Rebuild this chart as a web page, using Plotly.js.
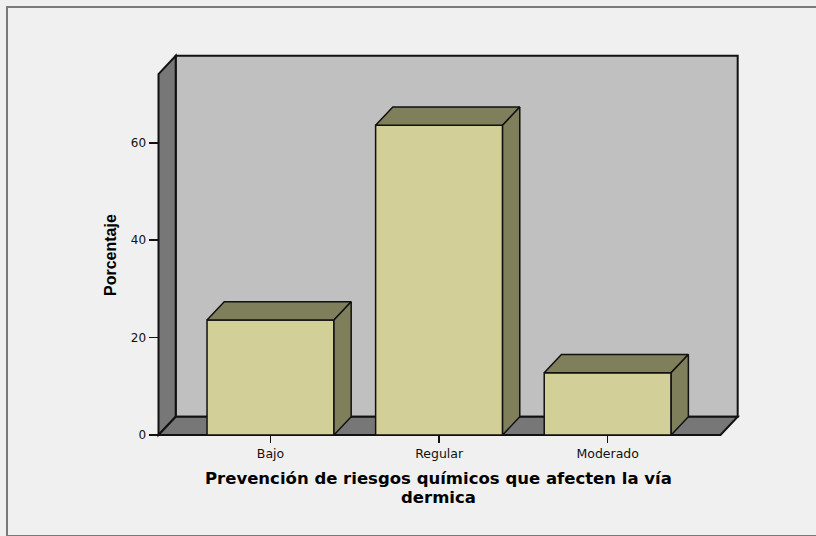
<!DOCTYPE html>
<html>
<head>
<meta charset="utf-8">
<script src="https://cdn.plot.ly/plotly-3.0.1.min.js"></script>
<style>
  html, body { margin: 0; padding: 0; background: #F0F0F0; }
  #chart { width: 816px; height: 536px; }
</style>
</head>
<body>
<div id="chart"></div>
<script>
// ---- data ----
const categories = ['Bajo', 'Regular', 'Moderado'];
const percentages = [23.6, 63.6, 12.8];
const yTickValues = [0, 20, 40, 60];
const yTickLabels = ['0', '20', '40', '60'];
const xAxisTitleLines = ['Prevención de riesgos químicos que afecten la vía', 'dermica'];
const yAxisTitle = 'Porcentaje';

// ---- layout geometry (pixels of the plotting box) ----
const W = 816, H = 536;
const L = 155, R = 742, T = 52, B = 439;
const plotW = R - L, plotH = B - T;

// axis ranges (category units / percent units)
const X_RANGE = [-0.6851, 2.7966];
const Y_RANGE = [-0.821, 78.645];

// 3D frame in data units
const X_MIN = -0.6643;     // left wall front edge
const X_RIGHT = 2.771;     // back wall right edge
const DX = 0.102;          // depth offset (x)
const DY = 3.75;           // depth offset (y)
const Y_BACK = 77.86;      // back wall top
const WALL_TOP = Y_BACK - DY;
const BAR_W = 0.753;

const FRONT = '#D3CF98';
const SHADE = '#807F5C';
const BACKWALL = '#C0C0C0';
const DARKWALL = '#777777';
const EDGE = '#111111';

const pxX = px => (px - L) / plotW;
const pxY = py => (B - py) / plotH;

const xIdx = categories.map((c, i) => i);

// ---- traces ----
const traces = [];
traces.push({
  type: 'bar',
  x: xIdx,
  y: percentages,
  width: BAR_W,
  marker: { color: FRONT, line: { color: EDGE, width: 1.5 } },
  hoverinfo: 'skip',
  showlegend: false
});

percentages.forEach((v, i) => {
  const xl = xIdx[i] - BAR_W / 2, xr = xIdx[i] + BAR_W / 2;
  // top face
  traces.push({
    type: 'scatter', mode: 'lines', fill: 'toself', fillcolor: SHADE,
    x: [xl, xl + DX, xr + DX, xr, xl],
    y: [v, v + DY, v + DY, v, v],
    line: { color: EDGE, width: 1.5 }, hoverinfo: 'skip', showlegend: false
  });
  // side face
  traces.push({
    type: 'scatter', mode: 'lines', fill: 'toself', fillcolor: SHADE,
    x: [xr, xr, xr + DX, xr + DX, xr],
    y: [0, v, v + DY, DY, 0],
    line: { color: EDGE, width: 1.5 }, hoverinfo: 'skip', showlegend: false
  });
});

// ---- walls ----
const shapes = [
  { type: 'rect', xref: 'x', yref: 'y', layer: 'below',
    x0: X_MIN + DX, x1: X_RIGHT, y0: DY, y1: Y_BACK,
    fillcolor: BACKWALL, line: { color: EDGE, width: 2 } },
  { type: 'path', xref: 'x', yref: 'y', layer: 'below',
    path: `M ${X_MIN},0 L ${X_MIN},${WALL_TOP} L ${X_MIN + DX},${Y_BACK} L ${X_MIN + DX},${DY} Z`,
    fillcolor: DARKWALL, line: { color: EDGE, width: 2 } },
  { type: 'path', xref: 'x', yref: 'y', layer: 'below',
    path: `M ${X_MIN},0 L ${X_MIN + DX},${DY} L ${X_RIGHT},${DY} L ${X_RIGHT - DX},0 Z`,
    fillcolor: DARKWALL, line: { color: EDGE, width: 2 } },
  // outer frame
  { type: 'rect', xref: 'paper', yref: 'paper', layer: 'below',
    x0: pxX(7), x1: pxX(822), y0: pxY(536), y1: pxY(7),
    fillcolor: 'rgba(0,0,0,0)', line: { color: '#7a7a7a', width: 2 } }
];

const layout = {
  width: W, height: H,
  margin: { l: L, r: W - R, t: T, b: H - B, pad: 0 },
  paper_bgcolor: '#F0F0F0',
  plot_bgcolor: 'rgba(0,0,0,0)',
  font: { family: 'DejaVu Sans, Arial, sans-serif', color: '#111' },
  showlegend: false,
  bargap: 0,
  xaxis: {
    range: X_RANGE, fixedrange: true,
    anchor: 'free',
    position: (0 - Y_RANGE[0]) / (Y_RANGE[1] - Y_RANGE[0]),
    tickmode: 'array', tickvals: xIdx, ticktext: categories,
    ticks: 'outside', ticklen: 7, tickwidth: 1.5, tickcolor: '#111',
    tickfont: { family: 'DejaVu Sans, Arial, sans-serif', size: 12.5, color: '#111' },
    showline: false, showgrid: false, zeroline: false
  },
  yaxis: {
    range: Y_RANGE, fixedrange: true,
    anchor: 'free',
    position: (X_MIN - X_RANGE[0]) / (X_RANGE[1] - X_RANGE[0]),
    tickmode: 'array', tickvals: yTickValues, ticktext: yTickLabels,
    ticks: 'outside', ticklen: 10, tickwidth: 1.5, tickcolor: '#111',
    tickfont: { family: 'DejaVu Sans, Arial, sans-serif', size: 12, color: '#111' },
    showline: false, showgrid: false, zeroline: false
  },
  shapes: shapes,
  annotations: [
    { text: yAxisTitle, xref: 'paper', yref: 'paper', x: pxX(110), y: pxY(255),
      xanchor: 'center', yanchor: 'middle', textangle: -90, showarrow: false,
      font: { family: 'Liberation Sans, Arial, sans-serif', size: 16, color: '#000', weight: 'bold' } },
    { text: '<b>' + xAxisTitleLines[0] + '</b>', xref: 'paper', yref: 'paper', x: pxX(438.5), y: pxY(478),
      xanchor: 'center', yanchor: 'middle', showarrow: false,
      font: { family: 'DejaVu Sans, sans-serif', size: 16.5, color: '#000' } },
    { text: '<b>' + xAxisTitleLines[1] + '</b>', xref: 'paper', yref: 'paper', x: pxX(438.5), y: pxY(497),
      xanchor: 'center', yanchor: 'middle', showarrow: false,
      font: { family: 'DejaVu Sans, sans-serif', size: 16.5, color: '#000' } }
  ]
};

Plotly.newPlot('chart', traces, layout, { staticPlot: true, displayModeBar: false });
</script>
</body>
</html>
